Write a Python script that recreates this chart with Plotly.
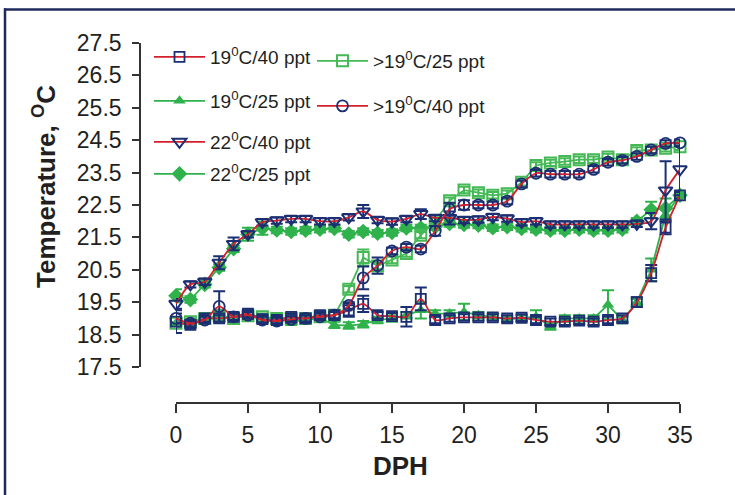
import plotly.graph_objects as go

days = list(range(36))

# 19°C/40 ppt (navy open squares, red line)
sq40 = [18.9, 18.8, 19.0, 19.0, 19.05, 19.15, 18.98, 18.95, 19.05, 19.0, 19.1, 19.1,
        19.25, 19.45, 19.1, 19.07, 19.05, 19.6, 18.95, 19.0, 19.03, 19.03, 19.03, 19.0,
        19.02, 18.95, 18.9, 18.9, 18.93, 18.9, 18.95, 19.0, 19.5, 20.4, 21.8, 22.8]
sq40_err = [0.35, 0.1, 0.1, 0.1, 0.1, 0.1, 0.1, 0.1, 0.1, 0.1, 0.1, 0.1,
            0.2, 0.25, 0.1, 0.1, 0.3, 0.35, 0.1, 0.1, 0.1, 0.1, 0.1, 0.1,
            0.1, 0.1, 0.1, 0.1, 0.1, 0.1, 0.1, 0.1, 0.15, 0.25, 0.2, 0.1]

# 19°C/25 ppt (green filled triangles)
tri25 = [18.85, 18.85, 18.95, 19.05, 19.0, 19.1, 19.0, 19.0, 18.9, 18.95, 19.0, 18.8,
         18.78, 18.82, 18.95, 19.0, 19.1, 19.25, 19.15, 19.15, 19.2, 19.1, 19.05, 18.97,
         19.0, 19.05, 18.75, 19.0, 19.0, 19.0, 19.42, 18.95, 19.5, 20.5, 22.2, 22.8]
tri25_err = [0.1, 0.1, 0.1, 0.1, 0.1, 0.1, 0.1, 0.1, 0.1, 0.1, 0.1, 0.1,
             0.1, 0.1, 0.1, 0.1, 0.1, 0.25, 0.1, 0.1, 0.25, 0.1, 0.1, 0.1,
             0.1, 0.2, 0.1, 0.1, 0.1, 0.1, 0.45, 0.1, 0.1, 0.35, 0.2, 0.1]

# 22°C/40 ppt (navy open inverted triangles, red line)
tri40 = [19.45, 20.05, 20.13, 20.72, 21.3, 21.6, 21.97, 22.02, 22.07, 22.07, 22.0, 22.0,
         22.12, 22.3, 22.04, 21.99, 22.07, 22.22, 22.1, 22.1, 22.04, 22.05, 22.13, 22.08,
         21.97, 22.0, 21.9, 21.9, 21.9, 21.9, 21.9, 21.9, 21.92, 22.0, 22.95, 23.6]
tri40_err = [0.15, 0.1, 0.1, 0.2, 0.2, 0.1, 0.1, 0.1, 0.1, 0.1, 0.1, 0.1,
             0.1, 0.2, 0.1, 0.1, 0.1, 0.15, 0.1, 0.2, 0.1, 0.1, 0.1, 0.1,
             0.1, 0.1, 0.1, 0.1, 0.1, 0.1, 0.1, 0.1, 0.1, 0.25, 0.9, 0.8]

# 22°C/25 ppt (green filled diamonds)
dia25 = [19.7, 19.58, 20.05, 20.57, 21.15, 21.6, 21.78, 21.73, 21.68, 21.72, 21.75, 21.78,
         21.6, 21.68, 21.63, 21.65, 21.79, 21.79, 21.83, 21.93, 21.9, 21.88, 21.8, 21.83,
         21.78, 21.75, 21.72, 21.72, 21.75, 21.72, 21.72, 21.75, 22.0, 22.35, 22.4, 22.8]
dia25_err = [0.2, 0.1, 0.1, 0.1, 0.1, 0.2, 0.2, 0.1, 0.1, 0.1, 0.1, 0.1,
             0.1, 0.1, 0.1, 0.1, 0.1, 0.1, 0.1, 0.1, 0.1, 0.1, 0.1, 0.1,
             0.1, 0.1, 0.1, 0.1, 0.1, 0.1, 0.1, 0.1, 0.1, 0.25, 0.3, 0.1]

# >19°C/25 ppt (green open squares)
sq25 = [18.85, 18.9, 19.0, 19.1, 19.0, 19.08, 19.05, 19.0, 19.0, 19.0, 19.05, 19.1,
        19.9, 20.88, 20.62, 20.8, 21.0, 21.57, 22.0, 22.63, 22.96, 22.88, 22.8, 22.85,
        23.2, 23.72, 23.8, 23.84, 23.9, 23.9, 23.98, 23.9, 24.18, 24.2, 24.25, 24.3]
sq25_err = [0.15, 0.1, 0.1, 0.1, 0.1, 0.1, 0.1, 0.1, 0.1, 0.1, 0.1, 0.1,
            0.1, 0.25, 0.1, 0.1, 0.1, 0.1, 0.1, 0.1, 0.1, 0.1, 0.1, 0.1,
            0.1, 0.1, 0.1, 0.1, 0.1, 0.1, 0.1, 0.1, 0.1, 0.1, 0.1, 0.1]

# >19°C/40 ppt (navy open circles, red line)
circ40 = [19.0, 18.85, 18.95, 19.37, 19.05, 19.1, 18.95, 18.92, 18.97, 19.0, 19.05, 19.1,
          19.4, 20.25, 20.63, 21.08, 21.2, 21.14, 21.7, 22.37, 22.5, 22.5, 22.5, 22.62,
          23.15, 23.48, 23.45, 23.45, 23.45, 23.6, 23.82, 23.88, 24.0, 24.2, 24.4, 24.42]
circ40_err = [0.15, 0.1, 0.1, 0.47, 0.1, 0.1, 0.1, 0.1, 0.1, 0.1, 0.1, 0.1,
              0.1, 0.35, 0.25, 0.1, 0.1, 0.1, 0.15, 0.2, 0.15, 0.1, 0.1, 0.1,
              0.1, 0.1, 0.1, 0.1, 0.1, 0.1, 0.1, 0.1, 0.1, 0.1, 0.1, 0.1]

y_ticks = [17.5, 18.5, 19.5, 20.5, 21.5, 22.5, 23.5, 24.5, 25.5, 26.5, 27.5]
x_ticks = [0, 5, 10, 15, 20, 25, 30, 35]

NAVY = "#1b2f72"
GREEN = "#2fb24c"
LGREEN = "#45b956"
RED = "#d3202c"
FONT = "Liberation Sans, Arial, sans-serif"

W, H = 735, 495
L, T = 140, 43
R = W - 680
B = H - 403
PW, PH = W - L - R, H - T - B


def fx(px):
    return (px - L) / PW


def fy(py):
    return (H - B - py) / PH


fig = go.Figure()


def add(name, y, err, sym, size, mcolor, lcolor, ecolor, spline, legend, lw=1.8):
    fig.add_trace(go.Scatter(
        x=days, y=y, name=name, mode="lines+markers",
        line=dict(color=lcolor, width=1.8, shape="spline" if spline else "linear",
                  smoothing=0.8),
        marker=dict(symbol=sym, size=size, color=mcolor, line=dict(color=mcolor, width=lw)),
        error_y=dict(type="data", array=err, color=ecolor, thickness=2, width=6),
        cliponaxis=False, legend=legend, showlegend=True))


add("19<sup>0</sup>C/25 ppt", tri25, tri25_err, "triangle-up", 11, GREEN, GREEN, GREEN, False, "legend2", 0)
add("22<sup>0</sup>C/25 ppt", dia25, dia25_err, "diamond", 12, GREEN, GREEN, GREEN, False, "legend4", 0)
add("&gt;19<sup>0</sup>C/25 ppt", sq25, sq25_err, "square-open", 11, LGREEN, LGREEN, LGREEN, False, "legend5", 2)
add("19<sup>0</sup>C/40 ppt", sq40, sq40_err, "square-open", 10, NAVY, RED, NAVY, True, "legend", 1.8)
add("22<sup>0</sup>C/40 ppt", tri40, tri40_err, "triangle-down-open", 12, NAVY, RED, NAVY, True, "legend3", 2)
add("&gt;19<sup>0</sup>C/40 ppt", circ40, circ40_err, "circle-open", 11, NAVY, RED, NAVY, True, "legend6", 1.8)

leg_common = dict(font=dict(family=FONT, size=19, color="#231f20"),
                  bgcolor="rgba(0,0,0,0)", xanchor="left", yanchor="middle",
                  itemwidth=51, itemclick=False)
layout_legends = {}
pos = {"legend": (149, 57), "legend2": (149, 101), "legend3": (149, 142),
       "legend4": (149, 174), "legend5": (312, 61), "legend6": (312, 106)}
for k, (px, py) in pos.items():
    layout_legends[k] = dict(x=fx(px), y=fy(py), **leg_common)

fig.update_layout(
    width=W, height=H,
    margin=dict(l=L, r=R, t=T, b=B),
    paper_bgcolor="white", plot_bgcolor="white",
    font=dict(family=FONT, color="#231f20"),
    xaxis=dict(range=[0, 35], domain=[fx(176), 1], anchor="free", position=0,
               tickvals=x_ticks, ticktext=[str(v) for v in x_ticks],
               showgrid=False, zeroline=False, showline=True, linecolor="#333333",
               linewidth=1.6, ticks="outside", ticklen=9, tickwidth=1.6, tickcolor="#333333",
               tickfont=dict(size=23, color="#231f20"), ticklabelstandoff=3),
    yaxis=dict(range=[17.5, 27.5], domain=[fy(367), 1], anchor="free", position=0,
               tickvals=y_ticks, ticktext=[f"{v:.1f}" for v in y_ticks],
               showgrid=False, zeroline=False, showline=True, linecolor="#333333",
               linewidth=1.6, ticks="outside", ticklen=7, tickwidth=1.6, tickcolor="#333333",
               tickfont=dict(size=23, color="#231f20"), ticklabelstandoff=6),
    showlegend=True,
    hovermode=False,
    **layout_legends,
)

fig.add_annotation(text="Temperature, <sup>O</sup>C", textangle=-90, xref="paper", yref="paper",
                   x=fx(44), y=fy(187), showarrow=False, xanchor="center", yanchor="middle",
                   font=dict(family=FONT, size=26, color="#231f20", weight="bold"))
fig.add_annotation(text="DPH", xref="paper", yref="paper", x=fx(400), y=fy(466),
                   showarrow=False, xanchor="center", yanchor="middle",
                   font=dict(family=FONT, size=26, color="#231f20", weight="bold"))

fig.add_shape(type="line", xref="paper", yref="paper", x0=fx(4), x1=fx(760),
              y0=fy(9.5), y1=fy(9.5), line=dict(color="#1e2a5e", width=2.5))
fig.add_shape(type="line", xref="paper", yref="paper", x0=fx(5), x1=fx(5),
              y0=fy(8.3), y1=fy(520), line=dict(color="#1e2a5e", width=2.5))

# remove the browser's default 8px body margin so the figure sits at the page origin
fig.write_html("out.html", config={"displayModeBar": False},
               post_script="document.body.style.margin='0px';")
